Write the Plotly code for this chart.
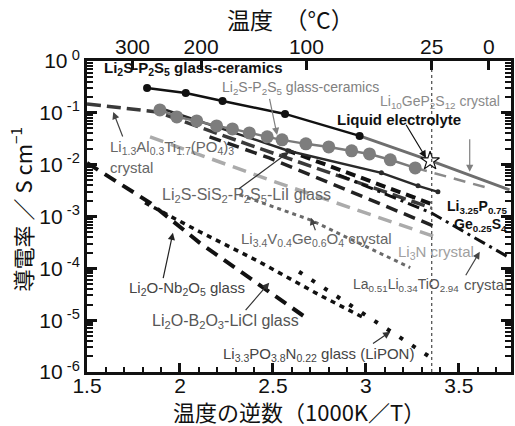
import plotly.graph_objects as go

# ---------------- data (x = 1000/T [1/K], y = conductivity [S/cm]) ----------------
gc1_x = [1.823, 2.031, 2.229, 2.565, 2.966]
gc1_y = [0.302, 0.242, 0.169, 0.0953, 0.0359]

lgps_x = [2.966, 3.350, 3.772]
lgps_y = [0.0359, 0.0118, 0.00327]

gc2_x = [1.892, 1.983, 2.090, 2.197, 2.282, 2.373, 2.469, 2.549, 2.677, 2.800, 2.923, 3.019, 3.131, 3.265]
gc2_y = [0.1138, 0.0834, 0.0698, 0.0560, 0.0490, 0.0410, 0.0344, 0.0301, 0.0252, 0.0220, 0.0185, 0.0161, 0.0124, 0.00867]
gc2_ext_x = [3.265, 3.654]
gc2_ext_y = [0.00867, 0.00357]

liquid_x = [3.345]
liquid_y = [0.0118]

lii_x = [1.892, 2.586, 3.083, 3.280, 3.387]
lii_y = [0.124, 0.0184, 0.00695, 0.00390, 0.00299]

latp_x = [1.500, 1.690, 1.876, 2.373, 3.350]
latp_y = [0.148, 0.124, 0.104, 0.0241, 0.00147]

dark2_x = [2.159, 2.480, 3.387]
dark2_y = [0.0344, 0.0135, 0.000605]

dark3_x = [2.570, 3.350]
dark3_y = [0.0193, 0.00176]

thio_x = [2.853, 3.350, 3.772]
thio_y = [0.00636, 0.00118, 0.000160]

li3n_x = [1.839, 2.480, 3.387]
li3n_y = [0.0344, 0.00509, 0.000389]

lvgo_x = [2.320, 2.700, 3.238]
lvgo_y = [0.00262, 0.000863, 0.000103]

nb_x = [1.500, 1.839, 2.106, 2.426, 2.693]
nb_y = [0.0108, 0.00184, 0.000311, 4.8e-5, 1.02e-5]

lbo_x = [1.812, 2.106, 2.426, 2.747, 2.987]
lbo_y = [0.00184, 0.000507, 0.000134, 3.10e-5, 1.12e-5]

lipon_x = [2.640, 3.350]
lipon_y = [8.6e-5, 1.89e-6]

# tick labels
x_ticks = [1.5, 2, 2.5, 3, 3.5]
x_ticktext = ["1.5", "2", "2.5", "3", "3.5"]
top_temps_C = [300, 200, 100, 25, 0]
top_ticktext = ["300", "200", "100", "25", "0"]
y_exps = [-6, -5, -4, -3, -2, -1, 0]

# ---------------- figure ----------------
fig = go.Figure()

def line(x, y, color, width, dash="solid", name=""):
    fig.add_trace(go.Scatter(x=x, y=y, mode="lines", name=name, showlegend=False,
                             line=dict(color=color, width=width, dash=dash)))

line(latp_x, latp_y, "#3a3a3a", 3.5, "14px,6px", "LATP")
line(dark2_x, dark2_y, "#222222", 3.5, "12px,7px")
line(dark3_x, dark3_y, "#111111", 4, "10px,6px")
line(li3n_x, li3n_y, "#ababab", 3.5, "14px,8px", "Li3N")
line(lvgo_x, lvgo_y, "#6a6a6a", 3, "4px,4px", "LVGO")
line(thio_x, thio_y, "#111111", 3, "12px,5px,3px,5px", "thio-LISICON")
line(nb_x, nb_y, "#111111", 4, "13px,8px", "Li2O-Nb2O5")
line(lbo_x, lbo_y, "#111111", 3.5, "5px,5px", "Li2O-B2O3-LiCl")
line(lipon_x, lipon_y, "#111111", 4, "4px,11px", "LiPON")

fig.add_trace(go.Scatter(x=lii_x, y=lii_y, mode="lines+markers", showlegend=False,
                         line=dict(color="#2a2a2a", width=2.5),
                         marker=dict(color="#2a2a2a", size=5)))
line(gc2_ext_x, gc2_ext_y, "#8a8a8a", 2.5, "12px,8px")
fig.add_trace(go.Scatter(x=gc2_x, y=gc2_y, mode="lines+markers", showlegend=False,
                         line=dict(color="#7a7a7a", width=2.5),
                         marker=dict(color="#7d7d7d", size=13)))
line(lgps_x, lgps_y, "#6e6e6e", 3)
fig.add_trace(go.Scatter(x=gc1_x, y=gc1_y, mode="lines+markers", showlegend=False,
                         line=dict(color="#111111", width=2.5),
                         marker=dict(color="#111111", size=8)))
fig.add_trace(go.Scatter(x=liquid_x, y=liquid_y, mode="markers", showlegend=False,
                         marker=dict(symbol="star", size=14, color="white",
                                     line=dict(color="#111111", width=1.2))))

# 25 C reference line on the top (temperature) axis
t25 = 1000 / (25 + 273.15)
fig.add_trace(go.Scatter(x=[t25, t25], y=[1e-6, 1], xaxis="x2", mode="lines", showlegend=False,
                         line=dict(color="#222222", width=1, dash="3px,3px")))

# ---------------- labels ----------------
FONT = "Liberation Sans, Arial, sans-serif"
labels = [
    (1.583, -0.135, "Li<sub>2</sub>S-P<sub>2</sub>S<sub>5</sub> glass-ceramics", "#111111", True, 15),
    (2.213, -0.521, "Li<sub>2</sub>S-P<sub>2</sub>S<sub>5</sub> glass-ceramics", "#808080", False, 14),
    (3.066, -0.791, "Li<sub>10</sub>GeP<sub>2</sub>S<sub>12</sub> crystal", "#8a8a8a", False, 14),
    (2.832, -1.137, "Liquid electrolyte", "#111111", True, 15),
    (1.615, -1.676, "Li<sub>1.3</sub>Al<sub>0.3</sub>Ti<sub>1.7</sub>(PO<sub>4</sub>)<sub>3</sub>", "#666666", False, 15),
    (1.615, -2.062, "crystal", "#666666", False, 15),
    (1.892, -2.601, "Li<sub>2</sub>S-SiS<sub>2</sub>-P<sub>2</sub>S<sub>5</sub>-LiI glass", "#666666", False, 16),
    (2.319, -3.449, "Li<sub>3.4</sub>V<sub>0.4</sub>Ge<sub>0.6</sub>O<sub>4</sub> crystal", "#666666", False, 15),
    (3.163, -3.699, "Li<sub>3</sub>N crystal", "#a0a0a0", False, 15),
    (2.917, -4.316, "La<sub>0.51</sub>Li<sub>0.34</sub>TiO<sub>2.94</sub>", "#555555", False, 14),
    (1.716, -4.393, "Li<sub>2</sub>O-Nb<sub>2</sub>O<sub>5</sub> glass", "#444444", False, 15),
    (1.839, -5.029, "Li<sub>2</sub>O-B<sub>2</sub>O<sub>3</sub>-LiCl glass", "#555555", False, 16),
    (2.223, -5.665, "Li<sub>3.3</sub>PO<sub>3.8</sub>N<sub>0.22</sub> glass (LiPON)", "#444444", False, 15),
]
annotations = []
for lx, ly, txt, col, bold, fs in labels:
    annotations.append(dict(x=lx, y=ly, xref="x", yref="y", text=(f"<b>{txt}</b>" if bold else txt),
                            showarrow=False, xanchor="left", yanchor="middle",
                            font=dict(family=FONT, size=fs, color=col)))

# right-anchored labels near the right edge
right_labels = [
    (-2.813, "<b>Li<sub>3.25</sub>P<sub>0.75</sub></b>", "#111111", 14),
    (-3.160, "<b>Ge<sub>0.25</sub>S<sub>4</sub></b>", "#111111", 14),
    (-4.316, "crystal", "#555555", 15),
]
for ly, txt, col, fs in right_labels:
    annotations.append(dict(x=0.995, y=ly, xref="paper", yref="y", text=txt, showarrow=False,
                            xanchor="right", yanchor="middle",
                            font=dict(family=FONT, size=fs, color=col)))

arrows = [
    (2.522, -1.426, 2.480, -0.700, "#808080"),
    (3.558, -2.139, 3.558, -1.480, "#808080"),
    (3.323, -1.869, 3.211, -1.200, "#111111"),
    (1.641, -0.983, 1.695, -1.484, "#444444"),
    (2.586, -1.753, 2.309, -2.486, "#333333"),
    (2.704, -3.025, 2.731, -3.295, "#444444"),
    (3.612, -3.680, 3.532, -4.162, "#444444"),
    (1.962, -3.314, 1.908, -4.220, "#222222"),
    (2.480, -4.277, 2.346, -4.836, "#333333"),
    (3.131, -5.222, 3.030, -5.472, "#333333"),
]
for tx, ty, sx, sy, col in arrows:
    annotations.append(dict(x=tx, y=ty, ax=sx, ay=sy, xref="x", yref="y", axref="x", ayref="y",
                            text="", showarrow=True, arrowhead=2, arrowsize=1.2, arrowwidth=1.2,
                            arrowcolor=col))

JP = "Noto Sans CJK JP, sans-serif"
annotations += [
    dict(x=0.48, y=1.135, xref="paper", yref="paper", text="温度　（°C）", showarrow=False,
         font=dict(family=JP, size=23, color="#111111"), xanchor="center", yanchor="middle"),
    dict(x=0.5, y=-0.126, xref="paper", yref="paper", text="温度の逆数（1000K／T）", showarrow=False,
         font=dict(family=JP, size=22, color="#111111"), xanchor="center", yanchor="middle"),
    dict(x=-0.157, y=0.524, xref="paper", yref="paper", text="導電率 ／ S cm<sup>−1</sup>",
         showarrow=False, textangle=-90,
         font=dict(family=JP, size=22, color="#111111"), xanchor="center", yanchor="middle"),
]

y_minor = [k * 10.0 ** e for e in y_exps[:-1] for k in range(2, 10)]

fig.update_layout(
    width=515, height=426,
    margin=dict(l=87, r=1, t=61, b=54),
    paper_bgcolor="white", plot_bgcolor="white",
    showlegend=False,
    annotations=annotations,
    xaxis=dict(range=[1.5, 3.78], tickmode="array", tickvals=x_ticks, ticktext=x_ticktext,
               ticks="inside", ticklen=9, tickwidth=3, tickcolor="#111111", ticklabelstandoff=-7,
               showline=True, linewidth=3, linecolor="#111111", showgrid=False, zeroline=False,
               tickfont=dict(family=FONT, size=21, color="#111111"),
               minor=dict(ticks="inside", dtick=0.1, tick0=1.5, ticklen=5, tickwidth=2,
                          tickcolor="#111111", showgrid=False)),
    xaxis2=dict(range=[1.5, 3.78], overlaying="x", side="top", anchor="y",
                tickmode="array", tickvals=[1000 / (t + 273.15) for t in top_temps_C],
                ticktext=top_ticktext, ticks="inside", ticklen=9, tickwidth=3, tickcolor="#111111",
                ticklabelstandoff=-4,
                showline=True, linewidth=3, linecolor="#111111", showgrid=False, zeroline=False,
                tickfont=dict(family=FONT, size=21, color="#111111")),
    yaxis=dict(type="log", range=[-6, 0], tickmode="array",
               tickvals=[10.0 ** e for e in y_exps],
               ticktext=[f"10<sup> {e}</sup>" for e in y_exps],
               ticks="inside", ticklen=10, tickwidth=3, tickcolor="#111111",
               showline=True, linewidth=3, linecolor="#111111", mirror="ticks",
               showgrid=False, zeroline=False,
               tickfont=dict(family=FONT, size=21, color="#111111"),
               minor=dict(ticks="inside", tickmode="array", tickvals=y_minor, ticklen=6, tickwidth=2,
                          tickcolor="#111111", showgrid=False)),
)

fig.write_html("out.html")
